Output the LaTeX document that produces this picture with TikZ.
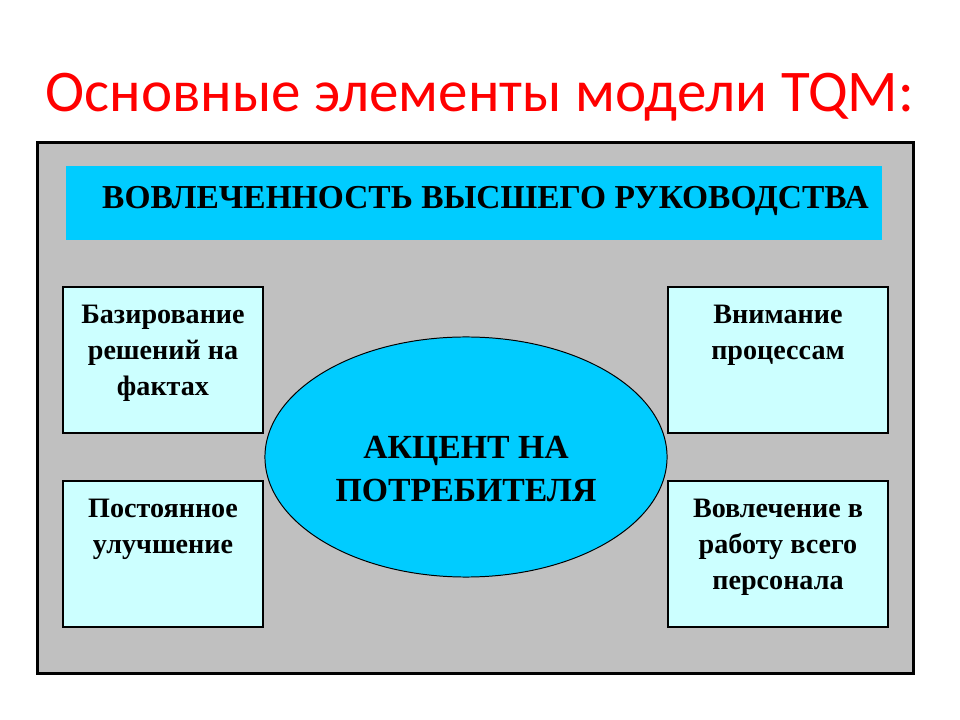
\documentclass[tikz,border=0pt]{standalone}
\usepackage{fontspec}
\setmainfont{Liberation Serif}
\newfontfamily\titlefont{Carlito}
\usetikzlibrary{shapes.geometric,positioning}
\definecolor{tqmcyan}{HTML}{00CCFF}
\definecolor{tqmlight}{HTML}{CCFFFF}
\definecolor{tqmgray}{HTML}{C0C0C0}
\tikzset{
  factbox/.style={draw=black,line width=1.4pt,fill=tqmlight,minimum height=3.65cm,inner sep=0pt},
  facttext/.style={align=center,inner sep=0pt,font=\fontsize{20}{25.6}\selectfont\bfseries},
}
\begin{document}
\begin{tikzpicture}[x=0.025cm,y=-0.025cm]
    \useasboundingbox[fill=white] (0,0) rectangle (960,720);
    \node[anchor=base,text=red,font=\titlefont\fontsize{42}{44}\selectfont] (title) at (480,112) {Основные элементы модели TQM:};
    \node[draw=black,line width=2.1pt,fill=tqmgray,minimum width=21.875cm,minimum height=13.25cm,inner sep=0pt] (frame) at (475.5,408) {};
    \node[fill=tqmcyan,minimum width=20.4cm,minimum height=1.85cm,inner sep=0pt] (banner) at (474,203) {};
    \node[anchor=base,inner sep=0pt,font=\fontsize{23.8}{28}\selectfont\bfseries] (bannertext) at (485.5,209) {ВОВЛЕЧЕННОСТЬ ВЫСШЕГО РУКОВОДСТВА};
    \node[factbox,minimum width=5cm] (facts) at (163,360) {};
    \node[factbox,minimum width=5cm] (improve) at (163,554) {};
    \node[factbox,minimum width=5.5cm] (process) at (778,360) {};
    \node[factbox,minimum width=5.5cm] (staff) at (778,554) {};
    \node[facttext,below=0.48cm of facts.north] (factstext) {Базирование\\решений на\\фактах};
    \node[facttext,below=0.48cm of improve.north] (improvetext) {Постоянное\\улучшение};
    \node[facttext,below=0.48cm of process.north] (processtext) {Внимание\\процессам};
    \node[facttext,below=0.48cm of staff.north] (stafftext) {Вовлечение в\\работу всего\\персонала};
    \node[ellipse,draw=black,line width=0.7pt,fill=tqmcyan,minimum width=10.05cm,minimum height=6cm,inner sep=0pt] (customer) at (466,457) {};
    \node[align=center,inner sep=0pt,font=\fontsize{24}{31}\selectfont\bfseries] (customertext) at (466,469) {АКЦЕНТ НА\\ПОТРЕБИТЕЛЯ};
\end{tikzpicture}
\end{document}
